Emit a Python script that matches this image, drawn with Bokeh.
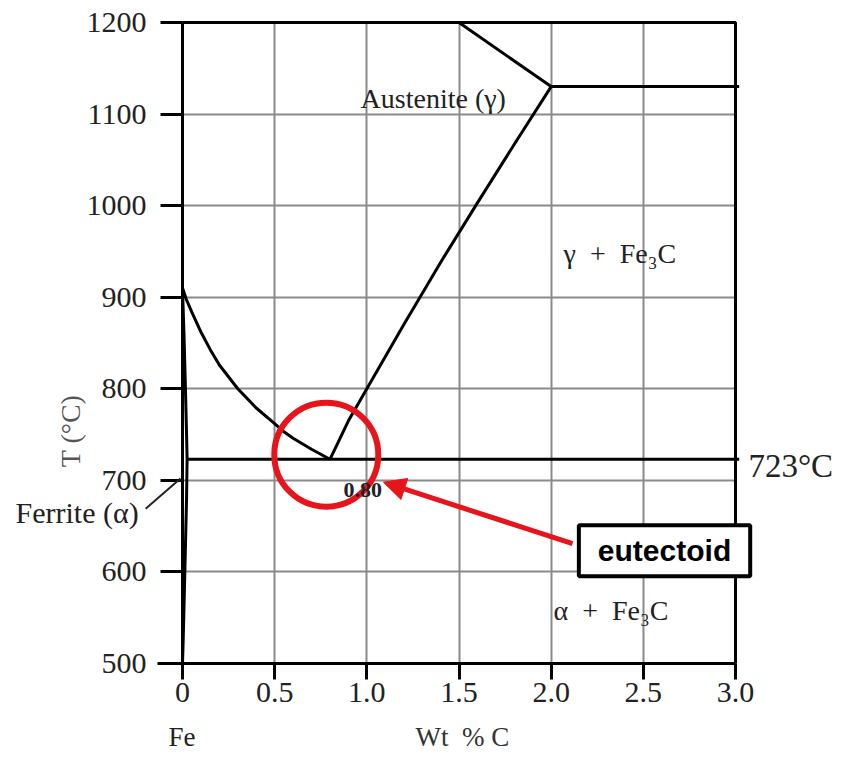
import numpy as np
from bokeh.plotting import figure
from bokeh.models import Range1d, FixedTicker, Label, Arrow, NormalHead, Grid
from bokeh.embed import file_html
from bokeh.resources import INLINE

# ---- data ----
x_ticks = [0, 0.5, 1.0, 1.5, 2.0, 2.5, 3.0]
x_tick_labels = ["0", "0.5", "1.0", "1.5", "2.0", "2.5", "3.0"]
y_ticks = [500, 600, 700, 800, 900, 1000, 1100, 1200]
x_min, x_max = 0.0, 3.0
t_min, t_max = 500, 1200

# A3 line (gamma / alpha+gamma boundary)
a3_c = [0.0, 0.02, 0.05, 0.10, 0.15, 0.20, 0.30, 0.40, 0.50, 0.55, 0.60, 0.70, 0.80]
a3_t = [910, 898, 884, 862, 843, 826, 800, 779, 762, 753, 746, 734, 723]

# Acm line (gamma / gamma+Fe3C boundary)
acm_c = [0.80, 0.90, 1.00, 1.20, 1.40, 1.60, 1.80, 2.00]
acm_t = [723, 765, 800, 870, 938, 1003, 1067, 1130]

# liquidus segment
liq_c = [1.5, 2.0]
liq_t = [1200, 1130]

# eutectic horizontal (1130)
eut_c = [2.0, 3.02]
eut_t = [1130, 1130]

# eutectoid horizontal (723)
eud_c = [0.02, 3.02]
eud_t = [723, 723]

# ferrite solvus
fer_c = [0.0, 0.008, 0.016, 0.022, 0.025, 0.022, 0.015, 0.008, 0.003, 0.0]
fer_t = [910, 860, 800, 750, 723, 680, 620, 560, 520, 500]

eutectoid_c = 0.78
eutectoid_t = 728

# ---- layout: place data box at fixed pixels in an 842x759 canvas ----
W, H = 842, 759
PX0, PX1 = 182, 735      # pixel of x_min, x_max
PY0, PY1 = 663, 22       # pixel of t_min, t_max (from top)
sx = (PX1 - PX0) / (x_max - x_min)
sy = (PY0 - PY1) / (t_max - t_min)
xr = Range1d(x_min - PX0 / sx, x_min + (W - PX0) / sx)
yr = Range1d(t_min - (H - PY0) / sy, t_min + PY0 / sy)

p = figure(width=W, height=H, output_backend="svg", toolbar_location=None,
           x_range=xr, y_range=yr, min_border=0)
p.outline_line_color = None
p.background_fill_color = "white"
p.border_fill_color = "white"

serif = "Liberation Serif"

for ax in (p.xaxis[0], p.yaxis[0]):
    ax.axis_line_width = 3
    ax.axis_line_color = "black"
    ax.major_tick_line_width = 3
    ax.major_tick_line_color = "black"
    ax.major_tick_in = 0
    ax.minor_tick_line_color = None
    ax.major_label_text_font = serif
    ax.major_label_text_font_size = "30px"
    ax.major_label_text_color = "#222222"

p.xaxis.fixed_location = t_min
p.yaxis.fixed_location = x_min
p.xaxis.bounds = (-0.135, x_max)
p.yaxis.bounds = (t_min, t_max)
p.xaxis.ticker = FixedTicker(ticks=x_ticks)
p.xaxis.major_label_overrides = {t: l for t, l in zip(x_ticks, x_tick_labels)}
p.xaxis.major_tick_out = 16
p.xaxis.major_label_standoff = 3
p.yaxis.ticker = FixedTicker(ticks=y_ticks)
p.yaxis.major_tick_out = 22
p.yaxis.major_label_standoff = 14

grid_col, grid_w = "#8a8a8a", 2
if "cross_bounds" in Grid.properties():
    p.xgrid.ticker = FixedTicker(ticks=x_ticks)
    p.ygrid.ticker = FixedTicker(ticks=y_ticks)
    p.xgrid.bounds = (x_min, x_max)
    p.ygrid.bounds = (t_min, t_max)
    p.xgrid.cross_bounds = (t_min, t_max)
    p.ygrid.cross_bounds = (x_min, x_max)
    p.grid.grid_line_color = grid_col
    p.grid.grid_line_width = grid_w
else:
    p.grid.grid_line_color = None
    p.segment(x0=x_ticks, y0=[t_min] * len(x_ticks), x1=x_ticks, y1=[t_max] * len(x_ticks),
              line_color=grid_col, line_width=grid_w)
    p.segment(x0=[x_min] * len(y_ticks), y0=y_ticks, x1=[x_max] * len(y_ticks), y1=y_ticks,
              line_color=grid_col, line_width=grid_w)

# box border (top and right)
p.line([x_min, x_max, x_max], [t_max, t_max, t_min], line_color="black", line_width=3)

lw = 3
for cx, ty in [(a3_c, a3_t), (acm_c, acm_t), (liq_c, liq_t), (eut_c, eut_t),
               (eud_c, eud_t), (fer_c, fer_t)]:
    p.line(cx, ty, line_color="black", line_width=lw)

# red circle
p.scatter([eutectoid_c], [eutectoid_t], marker="circle", size=104,
          fill_color=None, line_color="#e8141b", line_width=6)

# arrow
p.add_layout(Arrow(end=NormalHead(size=22, fill_color="#e8141b", line_color="#e8141b"),
                   x_start=2.116, y_start=631, x_end=1.09, y_end=698,
                   line_color="#e8141b", line_width=5))

# leader line for ferrite
p.add_layout(Arrow(end=None, x_start=-0.2, y_start=669, x_end=-0.011, y_end=702,
                   line_color="#222222", line_width=2))

NB = "\u00a0"

def lab(x, y, text, size="28px", color="#222222", style="normal", font=serif,
        align="left", angle=0.0):
    p.add_layout(Label(x=x, y=y, text=text, text_font=font, text_font_size=size,
                       text_color=color, text_font_style=style, text_align=align,
                       text_baseline="middle", angle=angle))

lab(0.966, 1117, "Austenite (γ)", size="28px")
lab(2.067, 948, f"γ{NB}{NB}+{NB}{NB}Fe₃C", size="28px")
lab(2.013, 558, f"α{NB}{NB}+{NB}{NB}Fe₃C", size="28px")
lab(0.874, 689, "0.80", size="22px", style="bold")
lab(3.07, 716, "723°C", size="33px")
lab(-0.906, 665, "Ferrite (α)", size="30px")
lab(-0.076, 420, "Fe", size="27px")
lab(1.264, 420, f"Wt{NB}{NB}%{NB}C", size="27px", color="#333333")
lab(-0.608, 754, "T (°C)", size="28px", color="#555555", align="center",
    angle=np.pi / 2)

p.add_layout(Label(x=2.615, y=623, text="eutectoid", text_font="Liberation Sans",
                   text_font_size="30px", text_font_style="bold", text_color="black",
                   text_align="center", text_baseline="middle",
                   border_line_color="black", border_line_width=4,
                   background_fill_color="white", padding=(19, 9)))

open("out.html", "w").write(file_html(p, INLINE))
